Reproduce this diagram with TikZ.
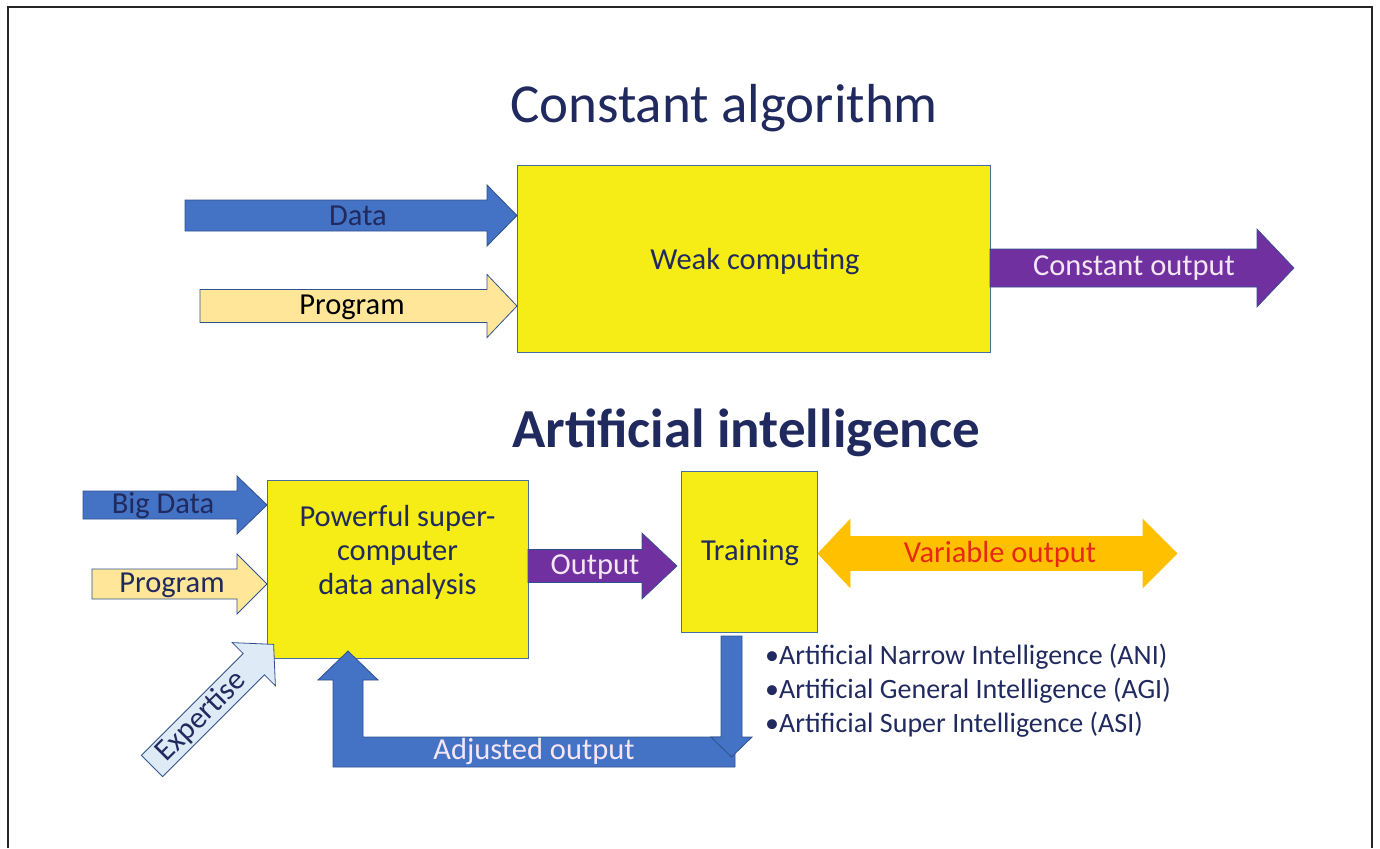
\documentclass[tikz,border=0pt]{standalone}
\usepackage{fontspec}
\setmainfont{Carlito}
\definecolor{navy}{RGB}{32,42,94}
\definecolor{boxyellow}{RGB}{246,236,22}
\definecolor{boxline}{RGB}{70,110,160}
\definecolor{ablue}{RGB}{68,114,196}
\definecolor{ablueline}{RGB}{47,82,143}
\definecolor{lightyellow}{RGB}{255,230,153}
\definecolor{apurple}{RGB}{112,48,160}
\definecolor{aorange}{RGB}{255,192,0}
\definecolor{lightblue}{RGB}{222,235,247}
\definecolor{vred}{RGB}{230,40,20}
\definecolor{paletext}{RGB}{245,230,245}
\newcommand{\rarr}[7]{%
 \path[#1] (#2,{#5-#6}) -- (#3,{#5-#6}) -- (#3,{#5-#7}) -- (#4,#5) -- (#3,{#5+#7}) -- (#3,{#5+#6}) -- (#2,{#5+#6}) -- cycle;}
\begin{document}
\begin{tikzpicture}[x=1pt,y=-1pt,
  ybox/.style={draw=boxline,line width=1pt,fill=boxyellow},
  bluearr/.style={fill=ablue,draw=ablueline,line width=0.8pt},
  yelarr/.style={fill=lightyellow,draw=ablueline,line width=0.8pt},
  purarr/.style={fill=apurple,draw=ablueline,line width=0.6pt},
  orarr/.style={fill=aorange,draw=aorange,line width=0.6pt},
  lbarr/.style={fill=lightblue,draw=ablueline,line width=0.8pt},
  lbl/.style={font=\fontsize{30.5}{34}\selectfont,inner sep=0pt},
  title/.style={font=\fontsize{55}{62}\selectfont,text=navy,inner sep=0pt}]
\useasboundingbox (0,0) rectangle (1380,848);
% frame
\draw[line width=1.5pt,color=black!85] (8,848) -- (8,7) -- (1372,7) -- (1372,848);

% titles
\node[title] (t1) at (724,108) {Constant algorithm};
\node[title,font=\fontsize{55}{62}\selectfont\bfseries] (t2) at (746,433) {Artificial intelligence};

% top part
\draw[ybox] (517,165) rectangle (990,352);
\node[lbl,text=navy] (weak) at (755,262) {Weak computing};
\rarr{bluearr}{185}{487}{517}{215.5}{15.5}{30.5}
\node[lbl,text=navy] (data) at (358,216) {Data};
\rarr{yelarr}{200}{487}{517}{306}{16.5}{31.5}
\node[lbl,text=black] (prog) at (352,307) {Program};
\rarr{purarr}{990}{1257}{1294}{268}{19}{39}
\node[lbl,text=paletext] (cout) at (1134,268) {Constant output};

% bottom part
\draw[ybox] (267,480) rectangle (528,658);
\node[lbl,text=navy,align=center] (pow) at (397.5,552) {Powerful super-\\computer\\data analysis};
\rarr{bluearr}{83}{237}{267}{505}{14}{29}
\node[lbl,text=navy] (big) at (163,506) {Big Data};
\rarr{yelarr}{92}{237}{267}{584}{15}{30}
\node[lbl,text=navy] (prog2) at (172,585) {Program};
\begin{scope}[shift={(152,766)},rotate=45]
 \path[lbarr] (0,-15) -- (144,-15) -- (144,-30.5) -- (172,0) -- (144,30.5) -- (144,15) -- (0,15) -- cycle;
 \node[lbl,text=navy,rotate=45] (exp) at (70,0) {Expertise};
\end{scope}
\rarr{purarr}{528}{642}{677}{566}{16.5}{33}
\node[lbl,text=paletext] (out) at (595,567) {Output};
\draw[ybox] (681,471) rectangle (817,632);
\node[lbl,text=navy] (train) at (750,553) {Training};
\path[orarr] (818,553.5) -- (850,519.5) -- (850,536.5) -- (1143,536.5) -- (1143,519.5) -- (1177,553.5) -- (1143,587.5) -- (1143,570.5) -- (850,570.5) -- (850,587.5) -- cycle;
\node[lbl,text=vred] (var) at (1000,554) {Variable output};
% feedback
\path[bluearr] (333,767) -- (735,767) -- (735,737) -- (363,737) -- (363,680) -- (378,680) -- (348,651) -- (318,680) -- (333,680) -- cycle;
\path[bluearr] (721,636) -- (742,636) -- (742,737) -- (752,737) -- (731.5,757) -- (711,737) -- (721,737) -- cycle;
\node[lbl,text=paletext] (adj) at (534,752) {Adjusted output};
% bullets
\node[anchor=north west,inner sep=0pt,align=left,text=navy,font=\fontsize{28}{34}\selectfont] (list) at (765,644) {•Artificial Narrow Intelligence (ANI)\\•Artificial General Intelligence (AGI)\\•Artificial Super Intelligence (ASI)};
\end{tikzpicture}
\end{document}
